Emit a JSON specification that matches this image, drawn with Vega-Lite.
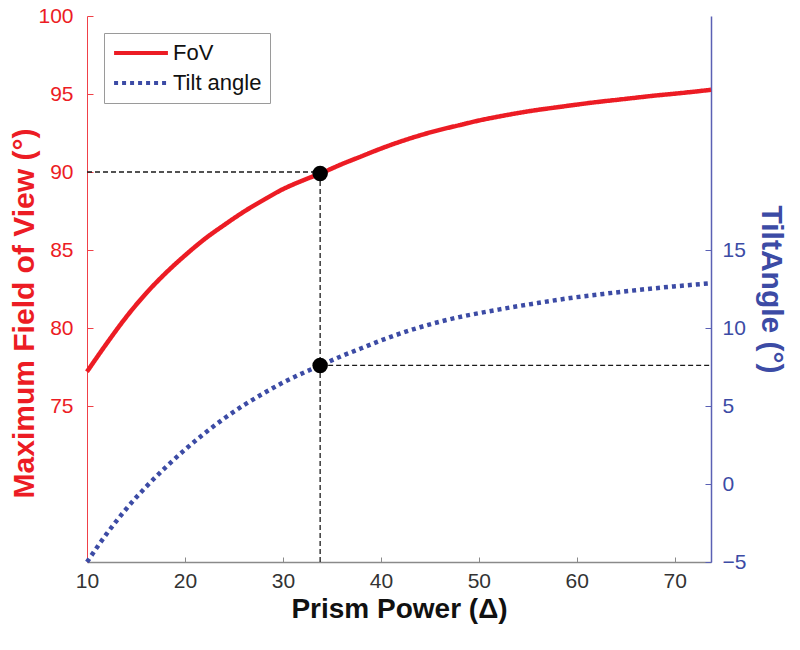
{
  "$schema": "https://vega.github.io/schema/vega-lite/v6.json",
  "width": 624,
  "height": 546,
  "autosize": {"type": "none"},
  "padding": {"left": 87, "top": 16, "right": 89, "bottom": 88},
  "background": "white",
  "config": {
    "view": {"stroke": null},
    "font": "Liberation Sans",
    "axis": {"grid": false, "labelFont": "Liberation Sans", "titleFont": "Liberation Sans", "labelFlush": false},
    "legend": {"labelFont": "Liberation Sans"}
  },
  "datasets": {
    "fov": [
      {"series": "FoV", "x": 10, "v": 77.2},
      {"series": "FoV", "x": 12, "v": 79.0},
      {"series": "FoV", "x": 14, "v": 80.7},
      {"series": "FoV", "x": 16, "v": 82.2},
      {"series": "FoV", "x": 18, "v": 83.5},
      {"series": "FoV", "x": 20, "v": 84.65},
      {"series": "FoV", "x": 22, "v": 85.7},
      {"series": "FoV", "x": 24, "v": 86.6},
      {"series": "FoV", "x": 26, "v": 87.45},
      {"series": "FoV", "x": 28, "v": 88.2},
      {"series": "FoV", "x": 30, "v": 88.9},
      {"series": "FoV", "x": 32, "v": 89.45},
      {"series": "FoV", "x": 34, "v": 89.95},
      {"series": "FoV", "x": 36, "v": 90.5},
      {"series": "FoV", "x": 38, "v": 91.0},
      {"series": "FoV", "x": 40, "v": 91.5},
      {"series": "FoV", "x": 42, "v": 91.95},
      {"series": "FoV", "x": 44, "v": 92.35},
      {"series": "FoV", "x": 46, "v": 92.7},
      {"series": "FoV", "x": 48, "v": 93.0},
      {"series": "FoV", "x": 50, "v": 93.3},
      {"series": "FoV", "x": 52, "v": 93.55},
      {"series": "FoV", "x": 54, "v": 93.78},
      {"series": "FoV", "x": 56, "v": 93.98},
      {"series": "FoV", "x": 58, "v": 94.15},
      {"series": "FoV", "x": 60, "v": 94.32},
      {"series": "FoV", "x": 62, "v": 94.48},
      {"series": "FoV", "x": 64, "v": 94.62},
      {"series": "FoV", "x": 66, "v": 94.76},
      {"series": "FoV", "x": 68, "v": 94.9},
      {"series": "FoV", "x": 70, "v": 95.02},
      {"series": "FoV", "x": 72, "v": 95.15},
      {"series": "FoV", "x": 73.7, "v": 95.27}
    ],
    "tilt": [
      {"series": "Tilt angle", "x": 10, "v": -5.0},
      {"series": "Tilt angle", "x": 12, "v": -3.2},
      {"series": "Tilt angle", "x": 14, "v": -1.6},
      {"series": "Tilt angle", "x": 16, "v": -0.2},
      {"series": "Tilt angle", "x": 18, "v": 1.05},
      {"series": "Tilt angle", "x": 20, "v": 2.2},
      {"series": "Tilt angle", "x": 22, "v": 3.25},
      {"series": "Tilt angle", "x": 24, "v": 4.2},
      {"series": "Tilt angle", "x": 26, "v": 5.05},
      {"series": "Tilt angle", "x": 28, "v": 5.8},
      {"series": "Tilt angle", "x": 30, "v": 6.5},
      {"series": "Tilt angle", "x": 32, "v": 7.1},
      {"series": "Tilt angle", "x": 34, "v": 7.65},
      {"series": "Tilt angle", "x": 36, "v": 8.2},
      {"series": "Tilt angle", "x": 38, "v": 8.7},
      {"series": "Tilt angle", "x": 40, "v": 9.2},
      {"series": "Tilt angle", "x": 42, "v": 9.65},
      {"series": "Tilt angle", "x": 44, "v": 10.05},
      {"series": "Tilt angle", "x": 46, "v": 10.4},
      {"series": "Tilt angle", "x": 48, "v": 10.7},
      {"series": "Tilt angle", "x": 50, "v": 10.95},
      {"series": "Tilt angle", "x": 52, "v": 11.18},
      {"series": "Tilt angle", "x": 54, "v": 11.4},
      {"series": "Tilt angle", "x": 56, "v": 11.6},
      {"series": "Tilt angle", "x": 58, "v": 11.8},
      {"series": "Tilt angle", "x": 60, "v": 11.98},
      {"series": "Tilt angle", "x": 62, "v": 12.13},
      {"series": "Tilt angle", "x": 64, "v": 12.28},
      {"series": "Tilt angle", "x": 66, "v": 12.42},
      {"series": "Tilt angle", "x": 68, "v": 12.55},
      {"series": "Tilt angle", "x": 70, "v": 12.67},
      {"series": "Tilt angle", "x": 72, "v": 12.78},
      {"series": "Tilt angle", "x": 73.7, "v": 12.87}
    ],
    "leftRules": [
      {"x": 10, "x2": 33.8, "y": 90, "y2": 90},
      {"x": 33.8, "x2": 33.8, "y": 65, "y2": 90}
    ],
    "rightRules": [
      {"x": 33.8, "x2": 73.7, "y": 7.6, "y2": 7.6}
    ],
    "fovPoint": [{"x": 33.8, "v": 89.9}],
    "tiltPoint": [{"x": 33.8, "v": 7.6}]
  },
  "layer": [
    {
      "layer": [
        {
          "data": {"name": "leftRules"},
          "mark": {"type": "rule", "color": "#1a1a1a", "strokeWidth": 1.3, "strokeDash": [5, 3]},
          "encoding": {
            "x": {"field": "x", "type": "quantitative", "scale": {"domain": [10, 73.7], "nice": false, "zero": false},
              "axis": {"orient": "bottom", "values": [10, 20, 30, 40, 50, 60, 70], "title": "Prism Power (Δ)",
                "domainColor": "#8a8a8a", "domainWidth": 1.5, "tickColor": "#8a8a8a", "tickSize": -5, "tickWidth": 1,
                "labelColor": "#333333", "labelFontSize": 21, "labelPadding": 13,
                "titleColor": "#111111", "titleFontSize": 28, "titleFontWeight": "bold", "titlePadding": 4}},
            "x2": {"field": "x2"},
            "y": {"field": "y", "type": "quantitative", "scale": {"domain": [65, 100], "nice": false, "zero": false},
              "axis": {"orient": "left", "values": [75, 80, 85, 90, 95, 100], "title": "Maximum Field of View (°)",
                "domainColor": "#f04048", "domainWidth": 1, "tickColor": "#f04048", "tickSize": -6, "tickWidth": 1,
                "labelColor": "#ec1c24", "labelFontSize": 21, "labelPadding": 20,
                "titleColor": "#ec1c24", "titleFontSize": 30, "titleFontWeight": "bold", "titleX": -48, "titleY": 297}},
            "y2": {"field": "y2"}
          }
        },
        {
          "data": {"name": "fov"},
          "mark": {"type": "line", "strokeWidth": 4.5, "strokeCap": "butt", "interpolate": "monotone"},
          "encoding": {
            "x": {"field": "x", "type": "quantitative"},
            "y": {"field": "v", "type": "quantitative"},
            "color": {"field": "series", "type": "nominal", "scale": {"domain": ["FoV", "Tilt angle"], "range": ["#ec1c24", "#3c4ba5"]},
              "legend": {"title": null, "orient": "none", "legendX": 17, "legendY": 17, "symbolType": "stroke", "symbolSize": 2900,
                "symbolStrokeWidth": 4, "labelFontSize": 22, "labelColor": "#111111", "labelOffset": 3, "rowPadding": 6, "clipHeight": 24,
                "padding": 8, "strokeColor": "#9a9a9a", "fillColor": "white"}},
            "strokeDash": {"field": "series", "type": "nominal", "scale": {"domain": ["FoV", "Tilt angle"], "range": [[1, 0], [4, 4]]},
              "legend": {"title": null, "orient": "none", "legendX": 17, "legendY": 17, "symbolType": "stroke", "symbolSize": 2900,
                "symbolStrokeWidth": 4, "labelFontSize": 22, "labelColor": "#111111", "labelOffset": 3, "rowPadding": 6, "clipHeight": 24,
                "padding": 8, "strokeColor": "#9a9a9a", "fillColor": "white"}}
          }
        },
        {
          "data": {"name": "fovPoint"},
          "mark": {"type": "circle", "color": "black", "size": 240, "opacity": 1},
          "encoding": {
            "x": {"field": "x", "type": "quantitative"},
            "y": {"field": "v", "type": "quantitative"}
          }
        }
      ]
    },
    {
      "layer": [
        {
          "data": {"name": "rightRules"},
          "mark": {"type": "rule", "color": "#1a1a1a", "strokeWidth": 1.3, "strokeDash": [5, 3]},
          "encoding": {
            "x": {"field": "x", "type": "quantitative"},
            "x2": {"field": "x2"},
            "y": {"field": "y", "type": "quantitative", "scale": {"domain": [-5, 30], "nice": false, "zero": false},
              "axis": {"orient": "right", "values": [-5, 0, 5, 10, 15], "title": "TiltAngle (°)",
                "domainColor": "#5a60b4", "domainWidth": 1.5, "tickColor": "#5a60b4", "tickSize": -6, "tickWidth": 1,
                "labelColor": "#3c4ba5", "labelFontSize": 21, "labelPadding": 17,
                "titleColor": "#3c4ba5", "titleFontSize": 30, "titleFontWeight": "bold", "titlePadding": 10}},
            "y2": {"field": "y2"}
          }
        },
        {
          "data": {"name": "tilt"},
          "mark": {"type": "line", "strokeWidth": 4.5, "strokeCap": "butt", "interpolate": "monotone"},
          "encoding": {
            "x": {"field": "x", "type": "quantitative"},
            "y": {"field": "v", "type": "quantitative"},
            "color": {"field": "series", "type": "nominal"},
            "strokeDash": {"field": "series", "type": "nominal"}
          }
        },
        {
          "data": {"name": "tiltPoint"},
          "mark": {"type": "circle", "color": "black", "size": 240, "opacity": 1},
          "encoding": {
            "x": {"field": "x", "type": "quantitative"},
            "y": {"field": "v", "type": "quantitative"}
          }
        }
      ]
    }
  ],
  "resolve": {"scale": {"y": "independent"}}
}
